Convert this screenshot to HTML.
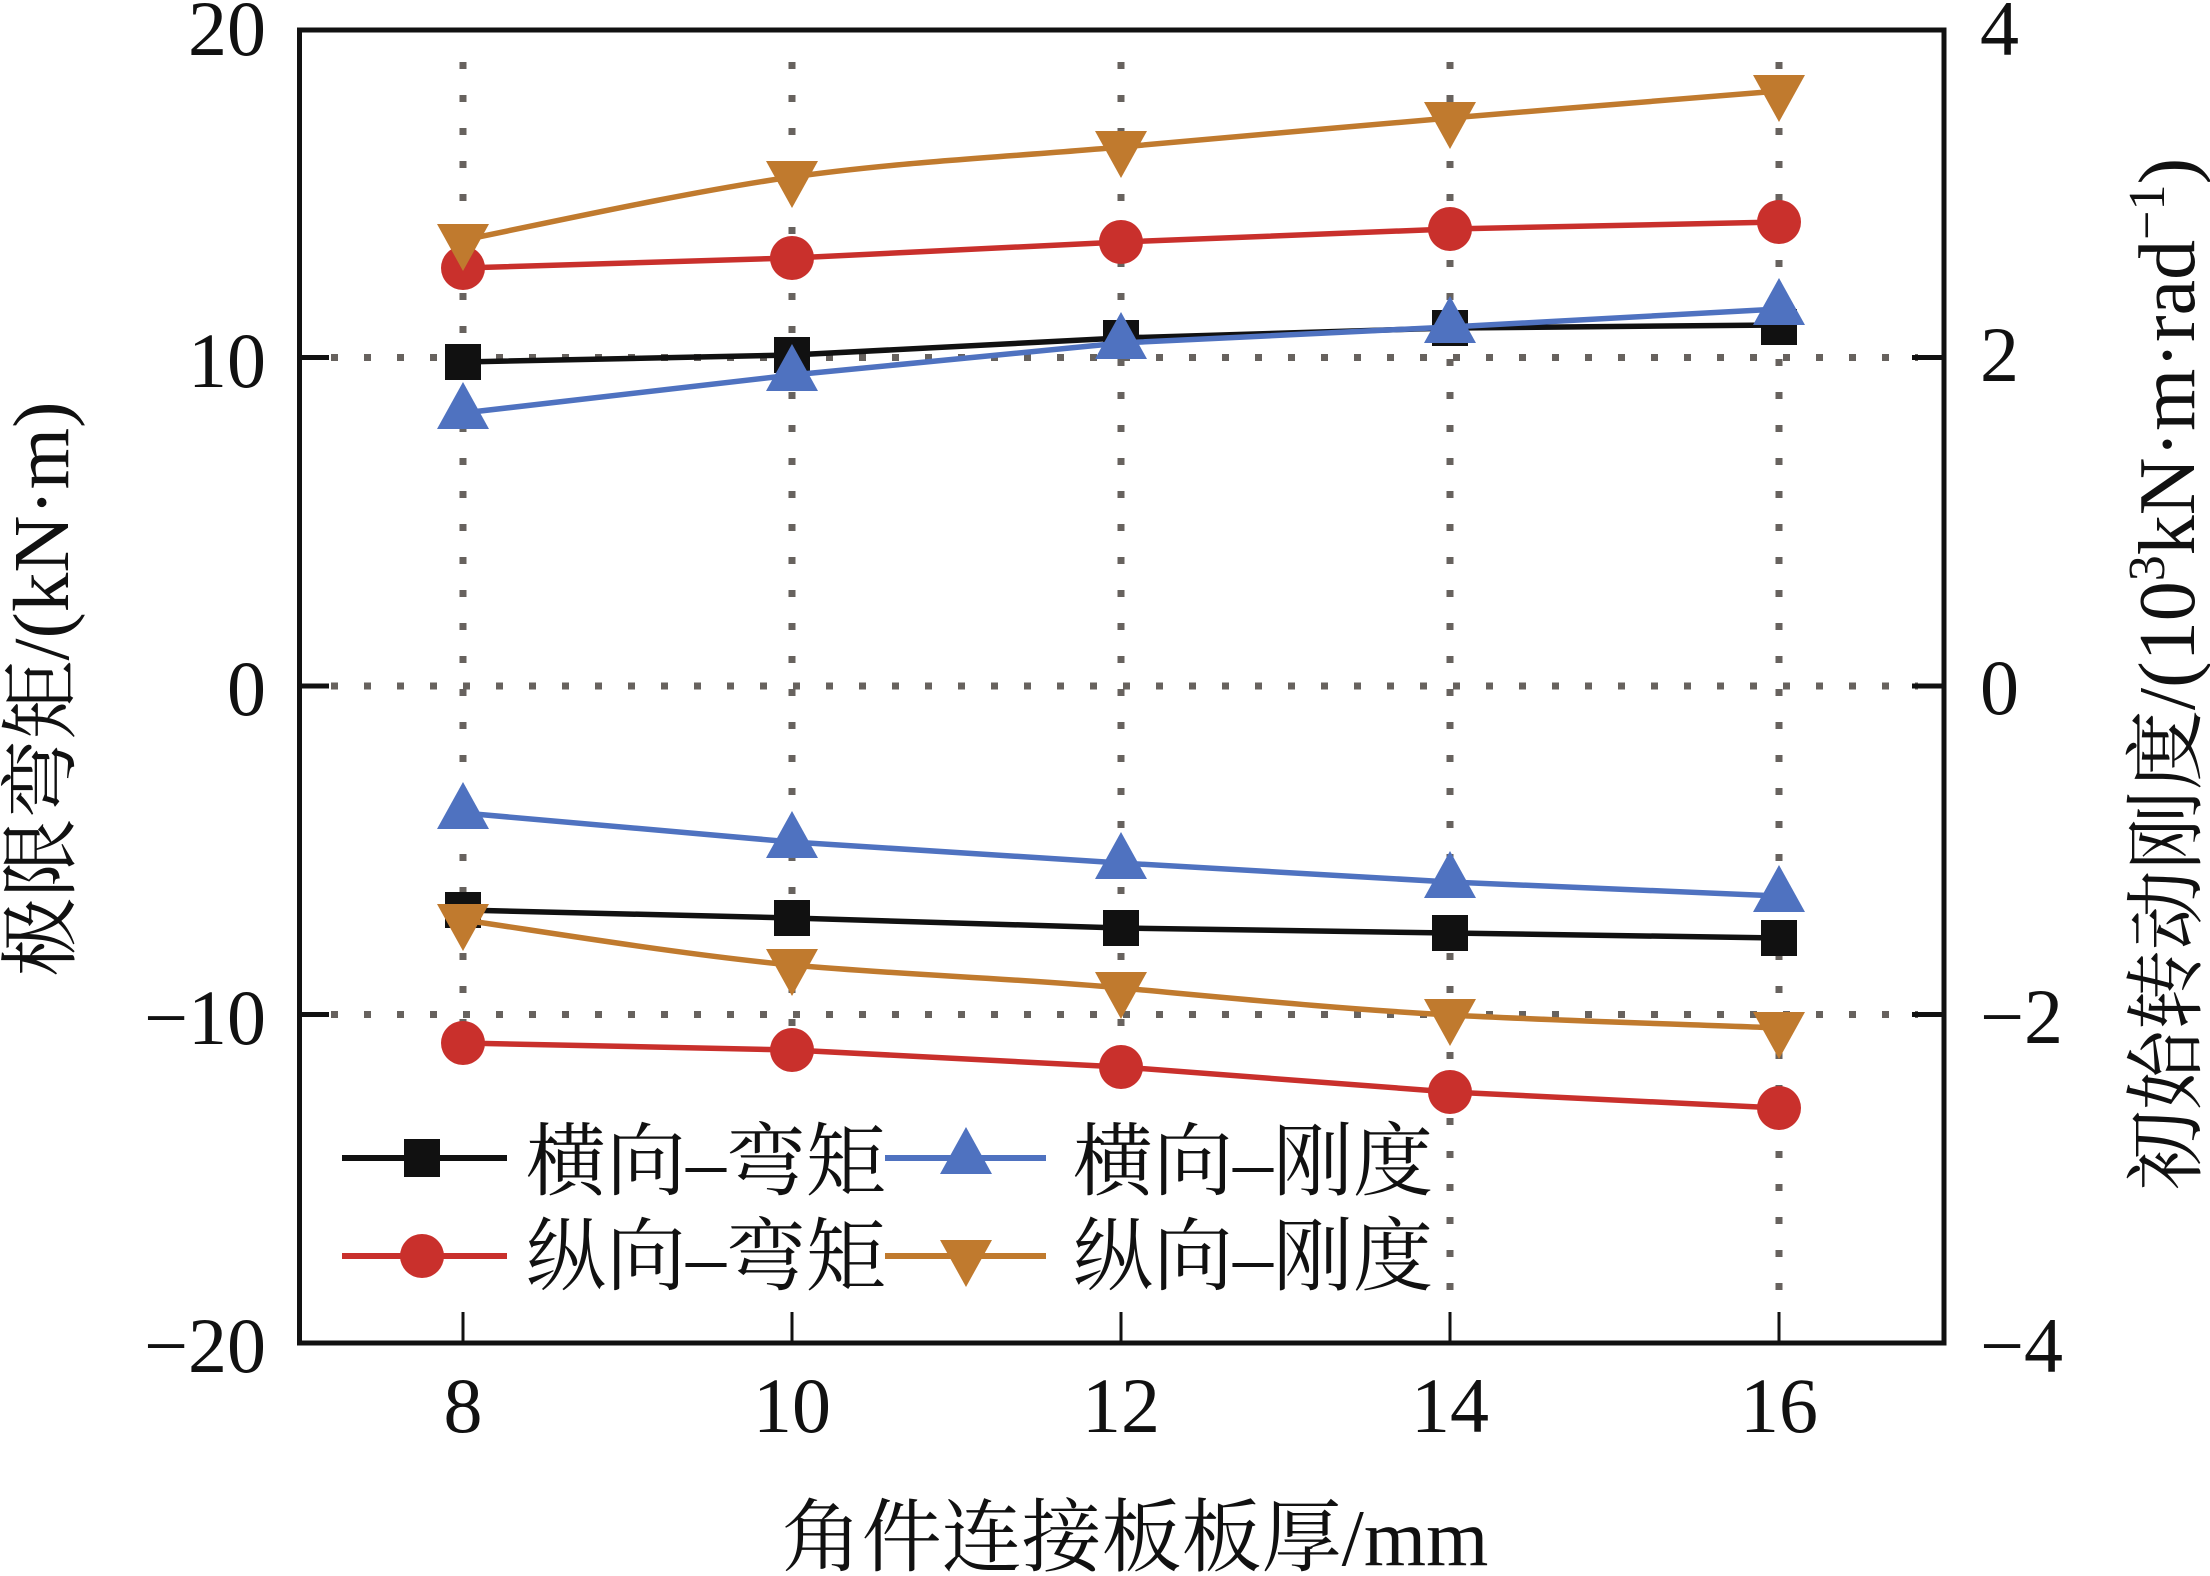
<!DOCTYPE html>
<html>
<head>
<meta charset="utf-8">
<style>
  html, body { margin: 0; padding: 0; background: #fff; }
  svg { display: block; }
  .tick { font-family: "Liberation Serif", serif; font-size: 78px; fill: #111; }
  .cjk { font-family: "Liberation Serif", "Noto Serif CJK SC", serif; fill: #111; }
</style>
</head>
<body>
<svg width="2210" height="1576" viewBox="0 0 2210 1576" xmlns="http://www.w3.org/2000/svg">
  <rect x="0" y="0" width="2210" height="1576" fill="#fff"/>

  <!-- grid (dotted) -->
  <g stroke="#67625e" stroke-width="7" stroke-dasharray="7 26" fill="none">
    <line x1="331" y1="357.5" x2="1918" y2="357.5"/>
    <line x1="331" y1="686" x2="1918" y2="686"/>
    <line x1="331" y1="1014.5" x2="1918" y2="1014.5"/>
    <line x1="463" y1="62" x2="463" y2="1295"/>
    <line x1="792" y1="62" x2="792" y2="1295"/>
    <line x1="1121" y1="62" x2="1121" y2="1295"/>
    <line x1="1450" y1="62" x2="1450" y2="1295"/>
    <line x1="1779" y1="62" x2="1779" y2="1295"/>
  </g>

  <!-- legend background -->
  <rect x="318" y="1082" width="1127" height="223" fill="#fff"/>

  <!-- frame -->
  <rect x="299.5" y="30" width="1644.5" height="1313" fill="none" stroke="#111" stroke-width="5"/>

  <!-- ticks -->
  <g stroke="#111" stroke-width="5">
    <line x1="299" y1="357.5" x2="329" y2="357.5"/>
    <line x1="299" y1="686" x2="329" y2="686"/>
    <line x1="299" y1="1014.5" x2="329" y2="1014.5"/>
    <line x1="1944" y1="357.5" x2="1912" y2="357.5"/>
    <line x1="1944" y1="686" x2="1912" y2="686"/>
    <line x1="1944" y1="1014.5" x2="1912" y2="1014.5"/>
  </g>
  <g stroke="#111" stroke-width="3">
    <line x1="463" y1="1343" x2="463" y2="1312"/>
    <line x1="792" y1="1343" x2="792" y2="1312"/>
    <line x1="1121" y1="1343" x2="1121" y2="1312"/>
    <line x1="1450" y1="1343" x2="1450" y2="1312"/>
    <line x1="1779" y1="1343" x2="1779" y2="1312"/>
  </g>

  <!-- left tick labels -->
  <g class="tick" text-anchor="end">
    <text x="266" y="55">20</text>
    <text x="266" y="387">10</text>
    <text x="266" y="715">0</text>
    <text x="266" y="1044">−10</text>
    <text x="266" y="1372">−20</text>
  </g>
  <!-- right tick labels -->
  <g class="tick" text-anchor="start">
    <text x="1980" y="55">4</text>
    <text x="1980" y="381">2</text>
    <text x="1980" y="714">0</text>
    <text x="1980" y="1043">−2</text>
    <text x="1980" y="1372">−4</text>
  </g>
  <!-- bottom tick labels -->
  <g class="tick" text-anchor="middle">
    <text x="463" y="1432">8</text>
    <text x="792" y="1432">10</text>
    <text x="1121" y="1432">12</text>
    <text x="1450" y="1432">14</text>
    <text x="1779" y="1432">16</text>
  </g>

  <!-- axis titles -->
  <text class="cjk" x="1135" y="1565" font-size="80" text-anchor="middle">角件连接板板厚/mm</text>
  <text class="cjk" font-size="79" text-anchor="middle" transform="translate(68,689) rotate(-90)">极限弯矩/(kN·m)</text>
  <text class="cjk" font-size="80" text-anchor="middle" transform="translate(2194,674) rotate(-90)">初始转动刚度/(10<tspan font-size="52" dy="-30">3</tspan><tspan dy="30">kN·m·rad</tspan><tspan font-size="52" dy="-30">−1</tspan><tspan dy="30">)</tspan></text>

  <!-- series: 横向-弯矩 (black squares) -->
  <g stroke="#111" stroke-width="5.5" fill="none" stroke-linejoin="round">
    <polyline points="463,362 792,355 1121,338 1450,328 1779,325"/>
    <polyline points="463,910 792,918 1121,928 1450,933 1779,938"/>
  </g>
  <g fill="#111">
    <rect x="445" y="344" width="36" height="36"/>
    <rect x="774" y="337" width="36" height="36"/>
    <rect x="1103" y="320" width="36" height="36"/>
    <rect x="1432" y="310" width="36" height="36"/>
    <rect x="1761" y="309" width="36" height="36"/>
    <rect x="445" y="892" width="36" height="36"/>
    <rect x="774" y="900" width="36" height="36"/>
    <rect x="1103" y="910" width="36" height="36"/>
    <rect x="1432" y="915" width="36" height="36"/>
    <rect x="1761" y="920" width="36" height="36"/>
  </g>

  <!-- series: 纵向-弯矩 (red circles) -->
  <g stroke="#c9302c" stroke-width="5.5" fill="none" stroke-linejoin="round">
    <polyline points="463,268 792,258 1121,242 1450,229 1779,222"/>
    <polyline points="463,1043 792,1050 1121,1067 1450,1092 1779,1108"/>
  </g>
  <g fill="#c9302c">
    <circle cx="463" cy="268" r="22"/>
    <circle cx="792" cy="258" r="22"/>
    <circle cx="1121" cy="242" r="22"/>
    <circle cx="1450" cy="229" r="22"/>
    <circle cx="1779" cy="222" r="22"/>
    <circle cx="463" cy="1043" r="22"/>
    <circle cx="792" cy="1050" r="22"/>
    <circle cx="1121" cy="1067" r="22"/>
    <circle cx="1450" cy="1092" r="22"/>
    <circle cx="1779" cy="1108" r="22"/>
  </g>

  <!-- series: 横向-刚度 (blue up triangles) -->
  <g stroke="#4f72c0" stroke-width="5.5" fill="none" stroke-linejoin="round">
    <polyline points="463,413 792,375 1121,343 1450,327 1779,309"/>
    <polyline points="463,813 792,842 1121,863 1450,882 1779,896"/>
  </g>
  <g fill="#4f72c0">
    <polygon points="463,382 489,429 437,429"/>
    <polygon points="792,344 818,391 766,391"/>
    <polygon points="1121,312 1147,359 1095,359"/>
    <polygon points="1450,296 1476,343 1424,343"/>
    <polygon points="1779,278 1805,325 1753,325"/>
    <polygon points="463,782 489,829 437,829"/>
    <polygon points="792,811 818,858 766,858"/>
    <polygon points="1121,832 1147,879 1095,879"/>
    <polygon points="1450,851 1476,898 1424,898"/>
    <polygon points="1779,865 1805,912 1753,912"/>
  </g>

  <!-- series: 纵向-刚度 (orange down triangles) -->
  <g stroke="#c07a2e" stroke-width="5.5" fill="none" stroke-linejoin="round">
    <path d="M463,240 C517.8,229.5 682.3,192.5 792,177 C901.7,161.5 1011.3,156.8 1121,147 C1230.7,137.2 1340.3,127.3 1450,118 C1559.7,108.7 1724.2,95.5 1779,91"/>
    <path d="M463,920 C517.8,927.5 682.3,955 792,965 C901.7,975 1011.3,978 1121,988 C1230.7,998 1340.3,1009 1450,1015 C1559.7,1021 1724.2,1025.5 1779,1028"/>
  </g>
  <g fill="#c07a2e">
    <polygon points="437,224 489,224 463,271"/>
    <polygon points="766,161 818,161 792,208"/>
    <polygon points="1095,131 1147,131 1121,178"/>
    <polygon points="1424,102 1476,102 1450,149"/>
    <polygon points="1753,75 1805,75 1779,122"/>
    <polygon points="437,904 489,904 463,951"/>
    <polygon points="766,949 818,949 792,996"/>
    <polygon points="1095,972 1147,972 1121,1019"/>
    <polygon points="1424,999 1476,999 1450,1046"/>
    <polygon points="1753,1012 1805,1012 1779,1059"/>
  </g>

  <!-- legend -->
  <g stroke-width="6">
    <line x1="342" y1="1158" x2="507" y2="1158" stroke="#111"/>
    <line x1="885" y1="1158" x2="1046" y2="1158" stroke="#4f72c0"/>
    <line x1="342" y1="1256" x2="507" y2="1256" stroke="#c9302c"/>
    <line x1="885" y1="1256" x2="1046" y2="1256" stroke="#c07a2e"/>
  </g>
  <rect x="404" y="1139" width="36" height="38" fill="#111"/>
  <polygon points="966,1127 992,1174 940,1174" fill="#4f72c0"/>
  <circle cx="422" cy="1256" r="22" fill="#c9302c"/>
  <polygon points="940,1240 992,1240 966,1287" fill="#c07a2e"/>

  <g class="cjk" font-size="80">
    <text x="526" y="1189">横向–弯矩</text>
    <text x="1073" y="1189">横向–刚度</text>
    <text x="526" y="1284">纵向–弯矩</text>
    <text x="1073" y="1284">纵向–刚度</text>
  </g>
</svg>
</body>
</html>
